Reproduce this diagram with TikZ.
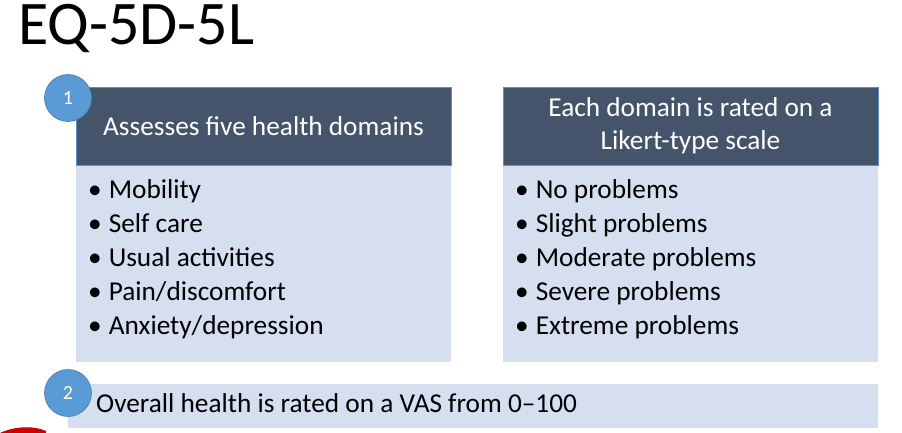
\documentclass[tikz,border=0pt]{standalone}
\usepackage{fontspec}
\setmainfont{Carlito}
\begin{document}
\begin{tikzpicture}[x=1pt,y=-1pt,
  hdr/.style={fill=hdrc,draw=edgec,line width=0.8pt},
  bodyb/.style={fill=bodyc,draw=none},
  num/.style={circle,fill=numc,draw=numc!80!black,line width=0.6pt,minimum size=47pt,inner sep=0pt,text=white,font=\fontsize{20}{20}\selectfont},
  item/.style={anchor=base west,font=\fontsize{27.3}{27.3}\selectfont,inner sep=0pt},
  htext/.style={text=white,font=\fontsize{27.3}{33}\selectfont,align=center}]
\definecolor{hdrc}{HTML}{44546A}
\definecolor{edgec}{HTML}{5B8FC8}
\definecolor{bodyc}{HTML}{D6DFF0}
\definecolor{numc}{HTML}{5B9BD5}
\useasboundingbox (0,0) rectangle (902,433);
\node[anchor=base west,inner sep=0pt,font=\fontsize{62}{62}\selectfont] (title) at (18,45) {EQ-5D-5L};
% left
\path[bodyb] (76,165) rectangle (451,362);
\draw[hdr] (76,87) rectangle (451,165);
\node[htext] (lh) at (263.5,126) {Assesses five health domains};
\node[num] (n1) at (68,98) {1};
\foreach \y/\t [count=\i] in {198/{Mobility},232/{Self care},266/{Usual activities},300/{Pain/discomfort},334/{Anxiety/depression}}
  \node[item] (l\i) at (88,\y) {\textbullet\hspace{7pt}\t};
% right
\path[bodyb] (503,165) rectangle (878,362);
\draw[hdr] (503,87) rectangle (878,165);
\node[htext] (rh) at (690.5,126) {Each domain is rated on a\\Likert-type scale};
\foreach \y/\t [count=\i] in {198/{No problems},232/{Slight problems},266/{Moderate problems},300/{Severe problems},334/{Extreme problems}}
  \node[item] (r\i) at (515,\y) {\textbullet\hspace{7pt}\t};
% bottom
\path[bodyb] (68,384) rectangle (878,428);
\node[num] (n2) at (68,393) {2};
\node[item] (vas) at (96,412) {Overall health is rated on a VAS from 0–100};
\fill[red!80!black] (0,433) .. controls (10,428) and (30,424) .. (46,431) -- (46,433) -- cycle;
\end{tikzpicture}
\end{document}
